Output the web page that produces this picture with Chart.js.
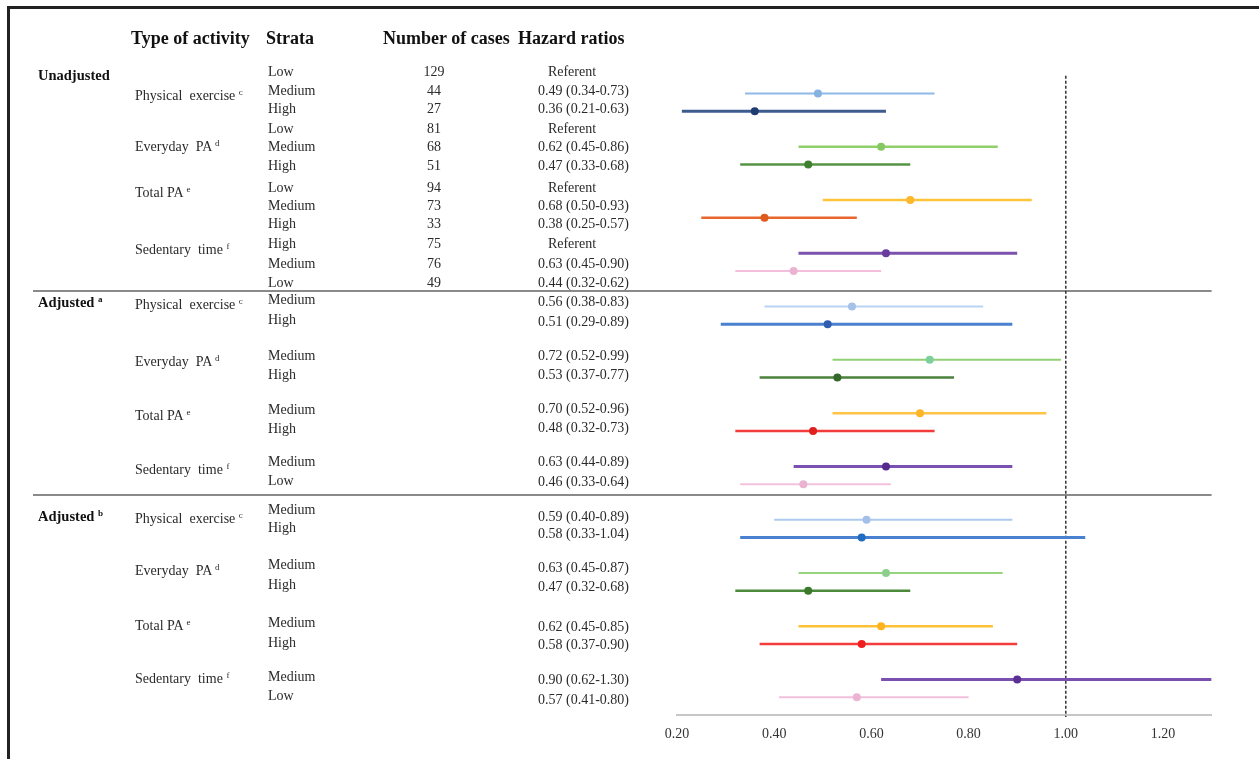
<!DOCTYPE html>
<html>
<head>
<meta charset="utf-8">
<script src="https://cdn.jsdelivr.net/npm/chart.js@4.4.1/dist/chart.umd.min.js"></script>
<style>
  html, body { margin: 0; padding: 0; background: #fff; }
  #wrap { position: relative; width: 1259px; height: 759px; overflow: hidden; background: #fff; }
  #frame { position: absolute; left: 7px; top: 6px; width: 1300px; height: 800px;
           border-top: 3px solid #222; border-left: 3px solid #222; box-sizing: border-box; }
  #c { position: absolute; left: 0; top: 0; }
  #txt { position: absolute; left: 0; top: 0; width: 1259px; height: 759px; pointer-events: none;
         font-family: "Liberation Serif", "Times New Roman", serif; color: #2a2a2a; }
  .t { position: absolute; white-space: pre; transform: translateY(-50%); font-size: 14px; line-height: 16px; }
  .c { transform: translate(-50%, -50%); }
  .h { font-weight: bold; font-size: 18px; line-height: 20px; color: #111; }
  .g { font-weight: bold; font-size: 14.5px; color: #111; }
  sup { font-size: 9px; vertical-align: 5px; line-height: 0; }
</style>
</head>
<body>
<div id="wrap">
  <canvas id="c" width="1259" height="759"></canvas>
  <div id="frame"></div>
  <div id="txt"></div>
</div>
<script>
// ---------------- DATA ----------------
const headerLabels = ["Type of activity", "Strata", "Number of cases", "Hazard ratios"];
const groupLabels = ["Unadjusted", "Adjusted", "Adjusted"];
const groupSup = ["", "a", "b"];
const activities = ["Physical  exercise", "Everyday  PA", "Total PA", "Sedentary  time"];
const activitySup = ["c", "d", "e", "f"];

// Unadjusted
const unadjStrata = [["Low", "Medium", "High"], ["Low", "Medium", "High"], ["Low", "Medium", "High"], ["High", "Medium", "Low"]];
const unadjCases = [[129, 44, 27], [81, 68, 51], [94, 73, 33], [75, 76, 49]];
const unadjHR = [[null, 0.49, 0.36], [null, 0.62, 0.47], [null, 0.68, 0.38], [null, 0.63, 0.44]];
const unadjLo = [[null, 0.34, 0.21], [null, 0.45, 0.33], [null, 0.50, 0.25], [null, 0.45, 0.32]];
const unadjHi = [[null, 0.73, 0.63], [null, 0.86, 0.68], [null, 0.93, 0.57], [null, 0.90, 0.62]];

// Adjusted a
const adjAStrata = [["Medium", "High"], ["Medium", "High"], ["Medium", "High"], ["Medium", "Low"]];
const adjAHR = [[0.56, 0.51], [0.72, 0.53], [0.70, 0.48], [0.63, 0.46]];
const adjALo = [[0.38, 0.29], [0.52, 0.37], [0.52, 0.32], [0.44, 0.33]];
const adjAHi = [[0.83, 0.89], [0.99, 0.77], [0.96, 0.73], [0.89, 0.64]];

// Adjusted b
const adjBStrata = [["Medium", "High"], ["Medium", "High"], ["Medium", "High"], ["Medium", "Low"]];
const adjBHR = [[0.59, 0.58], [0.63, 0.47], [0.62, 0.58], [0.90, 0.57]];
const adjBLo = [[0.40, 0.33], [0.45, 0.32], [0.45, 0.37], [0.62, 0.41]];
const adjBHi = [[0.89, 1.04], [0.87, 0.68], [0.85, 0.90], [1.30, 0.80]];

const xTickLabels = ["0.20", "0.40", "0.60", "0.80", "1.00", "1.20"];
const referenceValue = 1.0;

// ---------------- STYLE / LAYOUT ----------------
const unadjLineColors = [[null, "#8fbae8", "#3d5c8e"], [null, "#8fd06c", "#559444"], [null, "#ffc43a", "#e8672c"], [null, "#7b52ae", "#f3bedb"]];
const unadjPointColors = [[null, "#86b2e2", "#1f3d70"], [null, "#86c866", "#3f7f30"], [null, "#ffb82a", "#df5a1e"], [null, "#6a3c9e", "#ebb3d2"]];
const adjALineColors = [["#b8d3f1", "#4a80d0"], ["#90d173", "#4b813b"], ["#ffc444", "#f23b3b"], ["#7a50b0", "#f3c2dd"]];
const adjAPointColors = [["#a4c2e8", "#2f5db0"], ["#7fcf9c", "#35692a"], ["#ffb52a", "#e01f1f"], ["#55298e", "#ebb3d2"]];
const adjBLineColors = [["#abcaee", "#4a80d0"], ["#96d47e", "#4a8a3a"], ["#ffc236", "#f43c3c"], ["#7a4fb0", "#f2c0dd"]];
const adjBPointColors = [["#a2c0e8", "#1f6cc0"], ["#8ccf8c", "#3a7a2a"], ["#ffb21f", "#ef1f1f"], ["#5b2f94", "#ecb4d2"]];
const unadjLineWidth = [[0, 2, 3], [0, 2.5, 2.5], [0, 2.5, 2.5], [0, 3, 2]];
const adjLineWidth = [[2, 3], [2, 2.5], [2.5, 2.5], [3, 2]];

// plot slot (y value) of each row
const sectionStart = [0, 13, 25];
const separatorSlots = [12.1, 23.6];

// text layout (pixels)
const headerX = [131, 266, 383, 518], headerY = 38;
const groupX = 38, groupY = [75, 302, 516];
const actX = 135;
const strataX = 268, casesX = 434, hrX = 538, refX = 572;
const unadjRowY = [72, 90.5, 108.5, 128.5, 147, 165.5, 188, 205.5, 224, 244, 264, 282.5];
const unadjActY = [96, 147, 193, 250];
const adjAStrataY = [300, 320, 356, 375, 410, 428.5, 462, 481];
const adjAHrY = [302, 322, 356, 375, 409, 428, 462, 482];
const adjAActY = [305, 362, 416, 470];
const adjBStrataY = [509.5, 527.5, 565, 584.5, 623, 642.5, 676.5, 695.5];
const adjBHrY = [517, 534, 568, 586.5, 627, 645, 680, 699.5];
const adjBActY = [519, 571, 626, 679];

// ---------------- BUILD DATASETS ----------------
const datasets = [];
const pts = [], ptColors = [];
function addRow(hr, lo, hi, slot, lineColor, ptColor, lw) {
  if (hr === null) return;
  datasets.push({
    type: 'line',
    data: [{ x: lo, y: slot }, { x: hi, y: slot }],
    borderColor: lineColor, borderWidth: lw,
    pointRadius: 0, borderCapStyle: 'butt', tension: 0, order: 2
  });
  pts.push({ x: hr, y: slot });
  ptColors.push(ptColor);
}
for (let a = 0; a < 4; a++) {
  for (let s = 0; s < 3; s++)
    addRow(unadjHR[a][s], unadjLo[a][s], unadjHi[a][s], sectionStart[0] + a * 3 + s,
           unadjLineColors[a][s], unadjPointColors[a][s], unadjLineWidth[a][s]);
  for (let s = 0; s < 2; s++)
    addRow(adjAHR[a][s], adjALo[a][s], adjAHi[a][s], sectionStart[1] + a * 3 + s,
           adjALineColors[a][s], adjAPointColors[a][s], adjLineWidth[a][s]);
  for (let s = 0; s < 2; s++)
    addRow(adjBHR[a][s], adjBLo[a][s], adjBHi[a][s], sectionStart[2] + a * 3 + s,
           adjBLineColors[a][s], adjBPointColors[a][s], adjLineWidth[a][s]);
}
datasets.push({
  type: 'scatter', data: pts,
  pointRadius: 4, pointBackgroundColor: ptColors, pointBorderColor: ptColors,
  pointBorderWidth: 0, order: 1
});

const decorPlugin = {
  id: 'decor',
  beforeDatasetsDraw(chart) {
    const ctx = chart.ctx, xs = chart.scales.x, ys = chart.scales.y;
    ctx.save();
    // separators
    ctx.strokeStyle = '#8a8a8a'; ctx.lineWidth = 2;
    separatorSlots.forEach(v => {
      const y = Math.round(ys.getPixelForValue(v));
      ctx.beginPath(); ctx.moveTo(33, y); ctx.lineTo(xs.right, y); ctx.stroke();
    });
    // reference dashed line
    const x = xs.getPixelForValue(referenceValue);
    ctx.strokeStyle = '#333'; ctx.lineWidth = 1.5; ctx.setLineDash([3, 2]);
    ctx.beginPath(); ctx.moveTo(x, ys.getPixelForValue(0)); ctx.lineTo(x, ys.bottom + 2); ctx.stroke();
    ctx.restore();
  }
};

new Chart(document.getElementById('c'), {
  type: 'scatter',
  data: { datasets },
  options: {
    responsive: false, animation: false, devicePixelRatio: 1,
    layout: { padding: { left: 677, right: 47.4, top: 58, bottom: 14 } },
    plugins: { legend: { display: false }, tooltip: { enabled: false } },
    scales: {
      x: {
        type: 'linear', min: 0.2, max: 1.3, position: 'bottom',
        grid: { display: false, drawTicks: false },
        border: { display: true, color: '#c6c6c6', width: 2 },
        ticks: {
          stepSize: 0.2, includeBounds: false, padding: 11, color: '#333',
          font: { family: 'Liberation Serif', size: 14 },
          callback: (v, i) => xTickLabels[i] !== undefined ? xTickLabels[i] : ''
        },
        afterFit: s => { s.height = 30; }
      },
      y: { type: 'linear', min: -1, max: 36, reverse: true, display: false }
    }
  },
  plugins: [decorPlugin]
});

// ---------------- TEXT TABLE ----------------
const txt = document.getElementById('txt');
function put(text, x, y, cls, sup) {
  const el = document.createElement('div');
  el.className = 't ' + (cls || '');
  el.style.left = x + 'px'; el.style.top = y + 'px';
  el.textContent = text;
  if (sup) {
    el.appendChild(document.createTextNode(' '));
    const s = document.createElement('sup'); s.textContent = sup; el.appendChild(s);
  }
  txt.appendChild(el);
}
const fmt = v => v.toFixed(2);
headerLabels.forEach((h, i) => put(h, headerX[i], headerY, 'h'));
groupLabels.forEach((g, i) => put(g, groupX, groupY[i], 'g', groupSup[i]));
for (let a = 0; a < 4; a++) {
  put(activities[a], actX, unadjActY[a], '', activitySup[a]);
  put(activities[a], actX, adjAActY[a], '', activitySup[a]);
  put(activities[a], actX, adjBActY[a], '', activitySup[a]);
  for (let s = 0; s < 3; s++) {
    const y = unadjRowY[a * 3 + s];
    put(unadjStrata[a][s], strataX, y);
    put(String(unadjCases[a][s]), casesX, y, 'c');
    if (unadjHR[a][s] === null) put('Referent', refX, y, 'c');
    else put(fmt(unadjHR[a][s]) + ' (' + fmt(unadjLo[a][s]) + '-' + fmt(unadjHi[a][s]) + ')', hrX, y);
  }
  for (let s = 0; s < 2; s++) {
    put(adjAStrata[a][s], strataX, adjAStrataY[a * 2 + s]);
    put(fmt(adjAHR[a][s]) + ' (' + fmt(adjALo[a][s]) + '-' + fmt(adjAHi[a][s]) + ')', hrX, adjAHrY[a * 2 + s]);
    put(adjBStrata[a][s], strataX, adjBStrataY[a * 2 + s]);
    put(fmt(adjBHR[a][s]) + ' (' + fmt(adjBLo[a][s]) + '-' + fmt(adjBHi[a][s]) + ')', hrX, adjBHrY[a * 2 + s]);
  }
}
</script>
</body>
</html>
